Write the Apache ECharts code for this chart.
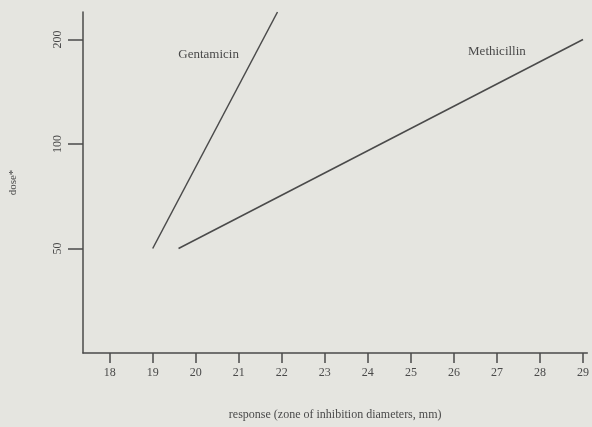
<!DOCTYPE html>
<html>
<head>
<meta charset="utf-8">
<script src="https://cdn.jsdelivr.net/npm/echarts@6/dist/echarts.min.js"></script>
<style>
  html,body{margin:0;padding:0;background:#e5e5e0;}
  #chart{width:592px;height:427px;}
</style>
</head>
<body>
<div id="chart"></div>
<script>
// response (mm) vs dose, log dose scale
var xTicks = [18, 19, 20, 21, 22, 23, 24, 25, 26, 27, 28, 29];
var yTicks = [50, 100, 200];
var gentamicin = [[19, 50], [21.9, 240]];
var methicillin = [[19.6, 50], [29, 200]];
var seriesNames = ['Gentamicin', 'Methicillin'];
var labelSpots = [[20.3, 181], [27.0, 184]];

var ink = '#4a4a4a';
var chart = echarts.init(document.getElementById('chart'));

function nameMark(i) {
  return {
    symbol: 'rect',
    symbolSize: 1,
    itemStyle: {color: 'rgba(0,0,0,0)'},
    label: {show: true, position: 'inside', formatter: seriesNames[i], fontSize: 13, color: ink, fontFamily: 'Liberation Serif'},
    data: [{coord: labelSpots[i]}]
  };
}

var option = {
  backgroundColor: '#e5e5e0',
  animation: false,
  textStyle: {fontFamily: 'Liberation Serif', color: ink},
  grid: {left: 83, right: 0, top: 12, bottom: 74},
  xAxis: {
    type: 'value',
    min: 17.38,
    max: 29.1,
    name: 'response (zone of inhibition diameters, mm)',
    nameLocation: 'middle',
    nameGap: 56,
    nameTextStyle: {fontFamily: 'Liberation Serif', fontSize: 12, color: ink},
    axisLine: {lineStyle: {color: ink, width: 1.5}},
    axisTick: {customValues: xTicks, length: 10, lineStyle: {color: ink, width: 1.5}},
    axisLabel: {customValues: xTicks, margin: 14, fontSize: 12, color: ink, fontFamily: 'Liberation Serif'},
    splitLine: {show: false}
  },
  yAxis: {
    type: 'log',
    logBase: 2,
    min: 25,
    max: 240,
    name: 'dose*',
    nameLocation: 'middle',
    nameGap: 64,
    nameRotate: 90,
    nameTextStyle: {fontFamily: 'Liberation Serif', fontSize: 11, color: ink},
    axisLine: {show: true, lineStyle: {color: ink, width: 1.5}},
    axisTick: {show: true, customValues: yTicks, length: 15, lineStyle: {color: ink, width: 1.5}},
    axisLabel: {customValues: yTicks, rotate: 90, margin: 19, fontSize: 12, color: ink, fontFamily: 'Liberation Serif'},
    splitLine: {show: false}
  },
  series: [
    {
      name: seriesNames[0], type: 'line', data: gentamicin, showSymbol: false,
      lineStyle: {color: ink, width: 1.5},
      markPoint: nameMark(0)
    },
    {
      name: seriesNames[1], type: 'line', data: methicillin, showSymbol: false,
      lineStyle: {color: ink, width: 1.5},
      markPoint: nameMark(1)
    }
  ]
};
chart.setOption(option);
</script>
</body>
</html>
